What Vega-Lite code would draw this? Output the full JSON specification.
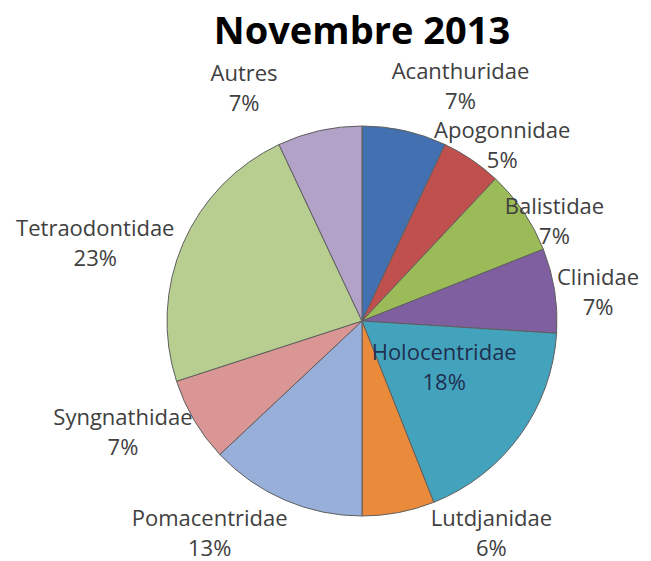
{
  "$schema": "https://vega.github.io/schema/vega-lite/v6.json",
  "width": 578,
  "height": 480,
  "autosize": {"type": "none"},
  "padding": {"left": 73, "top": 81, "right": 0, "bottom": 0},
  "background": "white",
  "title": {"text": "Novembre 2013", "font": "Open Sans", "fontSize": 38, "fontWeight": "bold", "color": "#000000", "anchor": "middle", "frame": "group", "offset": 9},
  "config": {
    "view": {"stroke": null},
    "text": {"font": "Open Sans", "fontSize": 22, "color": "#404040", "lineBreak": "\n", "lineHeight": 30, "align": "center", "baseline": "middle"}
  },
  "data": {"values": [
    {"k": 1, "name": "Acanthuridae", "pct": 7},
    {"k": 2, "name": "Apogonnidae", "pct": 5},
    {"k": 3, "name": "Balistidae", "pct": 7},
    {"k": 4, "name": "Clinidae", "pct": 7},
    {"k": 5, "name": "Holocentridae", "pct": 18},
    {"k": 6, "name": "Lutdjanidae", "pct": 6},
    {"k": 7, "name": "Pomacentridae", "pct": 13},
    {"k": 8, "name": "Syngnathidae", "pct": 7},
    {"k": 9, "name": "Tetraodontidae", "pct": 23},
    {"k": 10, "name": "Autres", "pct": 7}
  ]},
  "transform": [
    {"stack": "pct", "groupby": [], "sort": [{"field": "k", "order": "ascending"}], "as": ["s0", "s1"]},
    {"calculate": "(datum.s0 + datum.s1) / 2", "as": "mid"},
    {"calculate": "datum.name + '\\n' + datum.pct + '%'", "as": "label"}
  ],
  "encoding": {
    "theta": {"field": "mid", "type": "quantitative", "scale": {"domain": [0, 100]}},
    "text": {"field": "label"}
  },
  "layer": [
    {
      "mark": {"type": "arc", "outerRadius": 195, "stroke": "#5f5f5f", "strokeWidth": 1},
      "encoding": {
        "theta": {"field": "s0", "type": "quantitative", "scale": {"domain": [0, 100]}},
        "theta2": {"field": "s1"},
        "text": null,
        "color": {"field": "name", "type": "nominal", "legend": null,
          "scale": {
            "domain": ["Acanthuridae", "Apogonnidae", "Balistidae", "Clinidae", "Holocentridae", "Lutdjanidae", "Pomacentridae", "Syngnathidae", "Tetraodontidae", "Autres"],
            "range": ["#4270B0", "#C0504D", "#9BBB59", "#7F5FA0", "#43A3BD", "#EA8B3C", "#97AFD9", "#D99694", "#B8CE90", "#B3A2C7"]
          }}
      }
    },
    {"transform": [{"filter": "datum.k == 1"}], "mark": {"type": "text", "radius": 268, "dx": 40, "dy": 13}},
    {"transform": [{"filter": "datum.k == 2"}], "mark": {"type": "text", "radius": 237, "dx": 7, "dy": 6}},
    {"transform": [{"filter": "datum.k == 3"}], "mark": {"type": "text", "radius": 223, "dx": 8, "dy": 11}},
    {"transform": [{"filter": "datum.k == 4"}], "mark": {"type": "text", "radius": 240, "dx": -1, "dy": -5}},
    {"transform": [{"filter": "datum.k == 5"}], "mark": {"type": "text", "radius": 88, "dx": 11, "dy": -20, "color": "#1F2F4F"}},
    {"transform": [{"filter": "datum.k == 6"}], "mark": {"type": "text", "radius": 237, "dx": 85, "dy": -35}},
    {"transform": [{"filter": "datum.k == 7"}], "mark": {"type": "text", "radius": 250, "dx": -53, "dy": -31}},
    {"transform": [{"filter": "datum.k == 8"}], "mark": {"type": "text", "radius": 258, "dx": -17, "dy": -34}},
    {"transform": [{"filter": "datum.k == 9"}], "mark": {"type": "text", "radius": 283, "dx": -7, "dy": 20}},
    {"transform": [{"filter": "datum.k == 10"}], "mark": {"type": "text", "radius": 275, "dx": -58, "dy": 21}}
  ]
}
